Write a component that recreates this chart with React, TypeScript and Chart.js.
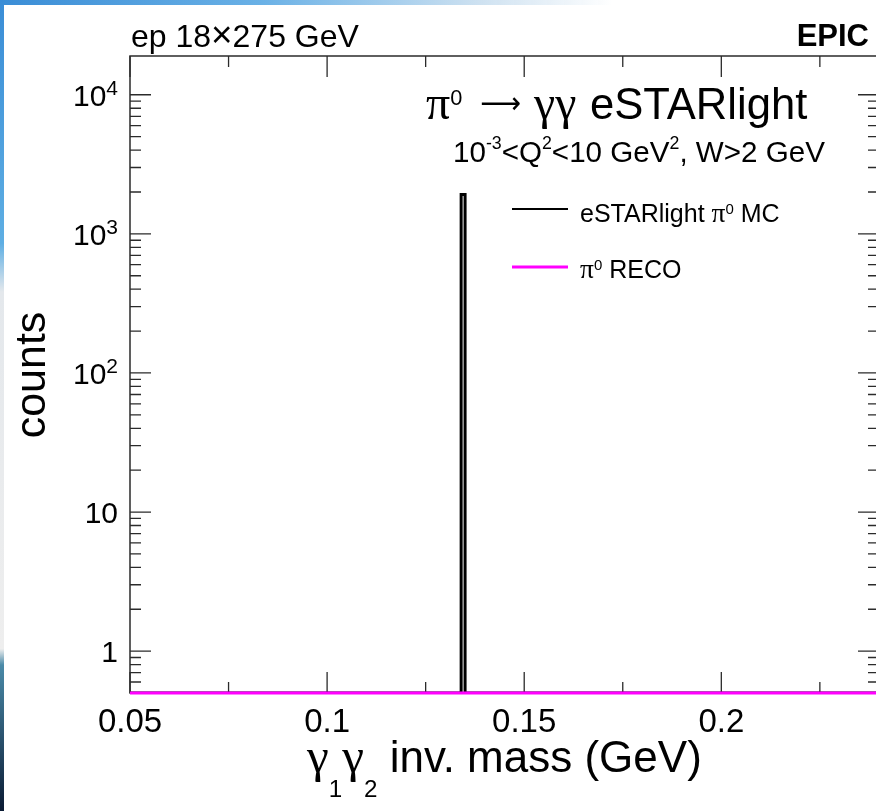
import React, { useEffect, useRef } from "react";
import { Chart, registerables } from "chart.js";

Chart.register(...registerables);

// ---- data ----
const X_MIN = 0.05;
const X_MAX = 0.24;
const Y_MIN = 0.5;
const Y_MAX = 19000;

const mcBinEdges = [0.05, 0.134, 0.135, 0.24];
const mcCounts = [0, 1920, 0];
const recoBinEdges = [0.05, 0.24];
const recoCounts = [0];

const xMajorTicks = [0.05, 0.1, 0.15, 0.2];
const xMinorTicks = [0.075, 0.125, 0.175, 0.225];
const xTickLabels = ["0.05", "0.1", "0.15", "0.2"];

const yMajorTicks = [1, 10, 100, 1000, 10000];
const yTickBase = ["1", "10", "10", "10", "10"];
const yTickExp = ["", "", "2", "3", "4"];
const yMinorTicks = [
  0.6, 0.7, 0.8, 0.9,
  2, 3, 4, 5, 6, 7, 8, 9,
  20, 30, 40, 50, 60, 70, 80, 90,
  200, 300, 400, 500, 600, 700, 800, 900,
  2000, 3000, 4000, 5000, 6000, 7000, 8000, 9000,
];

const SANS = '"Liberation Sans", Arial, Helvetica, sans-serif';
const SYM = '"Liberation Serif", "DejaVu Serif", serif';
const ARROWFONT = '"DejaVu Sans", sans-serif';

type Seg = { t: string; sym?: boolean; sup?: boolean; sub?: boolean; gap?: number; scale?: number };
type RichOpts = { supScale?: number; supRaise?: number; subScale?: number; subDrop?: number; bold?: boolean };

function segFont(seg: Seg, size: number, o: RichOpts) {
  let sz = size * (seg.scale ?? 1);
  if (seg.sup) sz = size * (o.supScale ?? 0.55);
  if (seg.sub) sz = size * (o.subScale ?? 0.56);
  return `${o.bold ? "bold " : ""}${sz}px ${seg.sym ? SYM : SANS}`;
}

function drawRich(
  ctx: CanvasRenderingContext2D,
  segs: Seg[],
  x: number,
  y: number,
  size: number,
  align: "left" | "right" | "center",
  o: RichOpts = {}
) {
  ctx.save();
  ctx.textAlign = "left";
  ctx.textBaseline = "alphabetic";
  let total = 0;
  const widths = segs.map((s) => {
    ctx.font = segFont(s, size, o);
    const w = ctx.measureText(s.t).width + (s.gap ?? 0);
    total += w;
    return w;
  });
  let cx = align === "left" ? x : align === "right" ? x - total : x - total / 2;
  segs.forEach((s, i) => {
    ctx.font = segFont(s, size, o);
    let yy = y;
    if (s.sup) yy = y - size * (o.supRaise ?? 0.4);
    if (s.sub) yy = y + size * (o.subDrop ?? 0.5);
    ctx.fillText(s.t, cx, yy);
    cx += widths[i];
  });
  ctx.restore();
}

// draw a glyph so that its ink spans [x, x+width], vertically centred on cy
function drawGlyphInBox(ctx: CanvasRenderingContext2D, text: string, font: string, x: number, cy: number, width: number) {
  ctx.save();
  ctx.font = font;
  ctx.textAlign = "left";
  ctx.textBaseline = "alphabetic";
  const m = ctx.measureText(text);
  const inkL = -(m.actualBoundingBoxLeft || 0);
  const inkR = m.actualBoundingBoxRight || m.width;
  const inkW = Math.max(1, inkR - inkL);
  const midY = ((m.actualBoundingBoxDescent || 0) - (m.actualBoundingBoxAscent || 0)) / 2;
  const sx = width / inkW;
  ctx.translate(x, cy);
  ctx.scale(sx, 1);
  ctx.fillText(text, -inkL, -midY);
  ctx.restore();
}

function stepData(edges: number[], counts: number[]) {
  return edges.map((x, i) => ({
    x,
    y: Math.max(counts[Math.min(i, counts.length - 1)], Y_MIN),
  }));
}

const rootStylePlugin = {
  id: "rootStyle",
  beforeDatasetsDraw(chart: any) {
    const ctx: CanvasRenderingContext2D = chart.ctx;
    const ca = chart.chartArea;
    const xs = chart.scales.x;
    const ys = chart.scales.y;
    ctx.save();
    ctx.strokeStyle = "#2b2b2b";
    ctx.lineWidth = 1.5;
    ctx.strokeRect(ca.left, ca.top, ca.right - ca.left, ca.bottom - ca.top);
    ctx.lineWidth = 1.3;
    const MAJ = 21;
    const MIN = 11;
    const vt = (v: number, len: number) => {
      const px = xs.getPixelForValue(v);
      ctx.beginPath();
      ctx.moveTo(px, ca.bottom);
      ctx.lineTo(px, ca.bottom - len);
      ctx.moveTo(px, ca.top);
      ctx.lineTo(px, ca.top + len);
      ctx.stroke();
    };
    const ht = (v: number, len: number) => {
      const py = ys.getPixelForValue(v);
      ctx.beginPath();
      ctx.moveTo(ca.left, py);
      ctx.lineTo(ca.left + len, py);
      ctx.moveTo(ca.right, py);
      ctx.lineTo(ca.right - len, py);
      ctx.stroke();
    };
    xMajorTicks.forEach((v) => vt(v, MAJ));
    xMinorTicks.forEach((v) => vt(v, MIN));
    yMajorTicks.forEach((v) => ht(v, MAJ));
    yMinorTicks.forEach((v) => ht(v, MIN));
    ctx.restore();
  },
  afterDraw(chart: any) {
    const ctx: CanvasRenderingContext2D = chart.ctx;
    const xs = chart.scales.x;
    const ys = chart.scales.y;
    ctx.save();
    ctx.fillStyle = "#000";

    // x tick labels
    ctx.font = `33px ${SANS}`;
    ctx.textAlign = "center";
    ctx.textBaseline = "alphabetic";
    xMajorTicks.forEach((v, i) => {
      ctx.fillText(xTickLabels[i], xs.getPixelForValue(v), 732);
    });

    // y tick labels
    yMajorTicks.forEach((v, i) => {
      const py = ys.getPixelForValue(v);
      const segs: Seg[] = [{ t: yTickBase[i] }];
      if (yTickExp[i]) segs.push({ t: yTickExp[i], sup: true });
      drawRich(ctx, segs, 118, py + 11, 30, "right", { supScale: 0.7, supRaise: 0.37 });
    });

    // axis titles
    drawRich(
      ctx,
      [
        { t: "\u03b3", sym: true, scale: 1.12 },
        { t: "1", sub: true },
        { t: "\u03b3", sym: true, scale: 1.12 },
        { t: "2", sub: true },
        { t: " inv. mass (GeV)" },
      ],
      307,
      772,
      44,
      "left",
      { subScale: 0.55, subDrop: 0.57 }
    );
    ctx.save();
    ctx.translate(45, 375);
    ctx.rotate(-Math.PI / 2);
    ctx.font = `43px ${SANS}`;
    ctx.textAlign = "center";
    ctx.textBaseline = "alphabetic";
    ctx.fillText("counts", 0, 0);
    ctx.restore();

    // header texts
    drawRich(ctx, [{ t: "ep 18" }, { t: "\u00d7", scale: 1.15 }, { t: "275 GeV" }], 131, 47, 32, "left");
    drawRich(ctx, [{ t: "EPIC" }], 869, 46, 31, "right", { bold: true });

    // title: pieces placed along the line
    drawRich(ctx, [{ t: "\u03c0", sym: true, scale: 1.1 }, { t: "0", sup: true }], 426, 119, 43.6, "left", {
      supScale: 0.5,
      supRaise: 0.33,
    });
    drawGlyphInBox(ctx, "\u27f6", `30px ${ARROWFONT}`, 481, 104, 39);
    drawRich(ctx, [{ t: "\u03b3\u03b3", sym: true, scale: 1.1 }], 534, 119, 43.6, "left");
    drawRich(ctx, [{ t: "eSTARlight" }], 590, 119, 43.6, "left");

    drawRich(
      ctx,
      [
        { t: "10" },
        { t: "-3", sup: true },
        { t: "<Q" },
        { t: "2", sup: true },
        { t: "<10 GeV" },
        { t: "2", sup: true },
        { t: ", W>2 GeV" },
      ],
      453,
      162,
      29.6,
      "left",
      { supScale: 0.6, supRaise: 0.45 }
    );

    // legend
    const ds = chart.data.datasets;
    const legendRows = [
      { idx: 0, y: 209, base: 222, segs: [{ t: "eSTARlight " }, { t: "\u03c0", sym: true, scale: 1.1 }, { t: "0", sup: true }, { t: " MC" }] as Seg[], lw: 2 },
      { idx: 1, y: 267, base: 278, segs: [{ t: "\u03c0", sym: true, scale: 1.1 }, { t: "0", sup: true }, { t: " RECO" }] as Seg[], lw: 3 },
    ];
    legendRows.forEach((r) => {
      ctx.strokeStyle = ds[r.idx].borderColor;
      ctx.lineWidth = r.lw;
      ctx.beginPath();
      ctx.moveTo(512, r.y);
      ctx.lineTo(568, r.y);
      ctx.stroke();
      drawRich(ctx, r.segs, 580, r.base, 25, "left", { supScale: 0.6, supRaise: 0.32 });
    });
    ctx.restore();
  },
};

export default function App() {
  const ref = useRef<HTMLCanvasElement | null>(null);
  useEffect(() => {
    const canvas = ref.current;
    if (!canvas) return;
    const chart = new Chart(canvas, {
      type: "line",
      data: {
        datasets: [
          {
            label: "eSTARlight \u03c0\u2070 MC",
            data: stepData(mcBinEdges, mcCounts),
            borderColor: "#000000",
            borderWidth: 3,
            stepped: "before",
            pointRadius: 0,
            fill: false,
            order: 1,
          },
          {
            label: "\u03c0\u2070 RECO",
            data: stepData(recoBinEdges, recoCounts),
            borderColor: "#ff00ff",
            borderWidth: 3,
            stepped: "before",
            pointRadius: 0,
            fill: false,
            clip: false,
            order: 0,
          },
        ],
      },
      options: {
        animation: false,
        responsive: false,
        devicePixelRatio: 1,
        layout: { padding: { left: 130, top: 56, right: 21, bottom: 118 } },
        scales: {
          x: { type: "linear", min: X_MIN, max: X_MAX, display: false },
          y: { type: "logarithmic", min: Y_MIN, max: Y_MAX, display: false },
        },
        plugins: {
          legend: { display: false },
          tooltip: { enabled: false },
          title: { display: false },
        },
        events: [],
      } as any,
      plugins: [rootStylePlugin as any],
    });
    return () => chart.destroy();
  }, []);

  return (
    <div
      style={{
        position: "absolute",
        left: 0,
        top: 0,
        width: 876,
        height: 811,
        overflow: "hidden",
        background: "#ffffff",
      }}
    >
      <canvas ref={ref} width={900} height={811} style={{ position: "absolute", left: 0, top: 0, width: 900, height: 811 }} />
      <div
        style={{
          position: "absolute",
          left: 0,
          top: 0,
          width: 876,
          height: 5,
          background: "linear-gradient(to right, #3a8dd6 0%, #6ab1e6 30%, #cfe2f1 55%, rgba(255,255,255,0) 70%)",
        }}
      />
      <div
        style={{
          position: "absolute",
          left: 0,
          top: 0,
          width: 4,
          height: 811,
          background:
            "linear-gradient(to bottom, #3a8dd6 0%, #5eaee3 30%, #e4e8ec 36%, #eeeeee 80%, #4a8aa8 82%, #0a1a33 100%)",
        }}
      />
    </div>
  );
}
